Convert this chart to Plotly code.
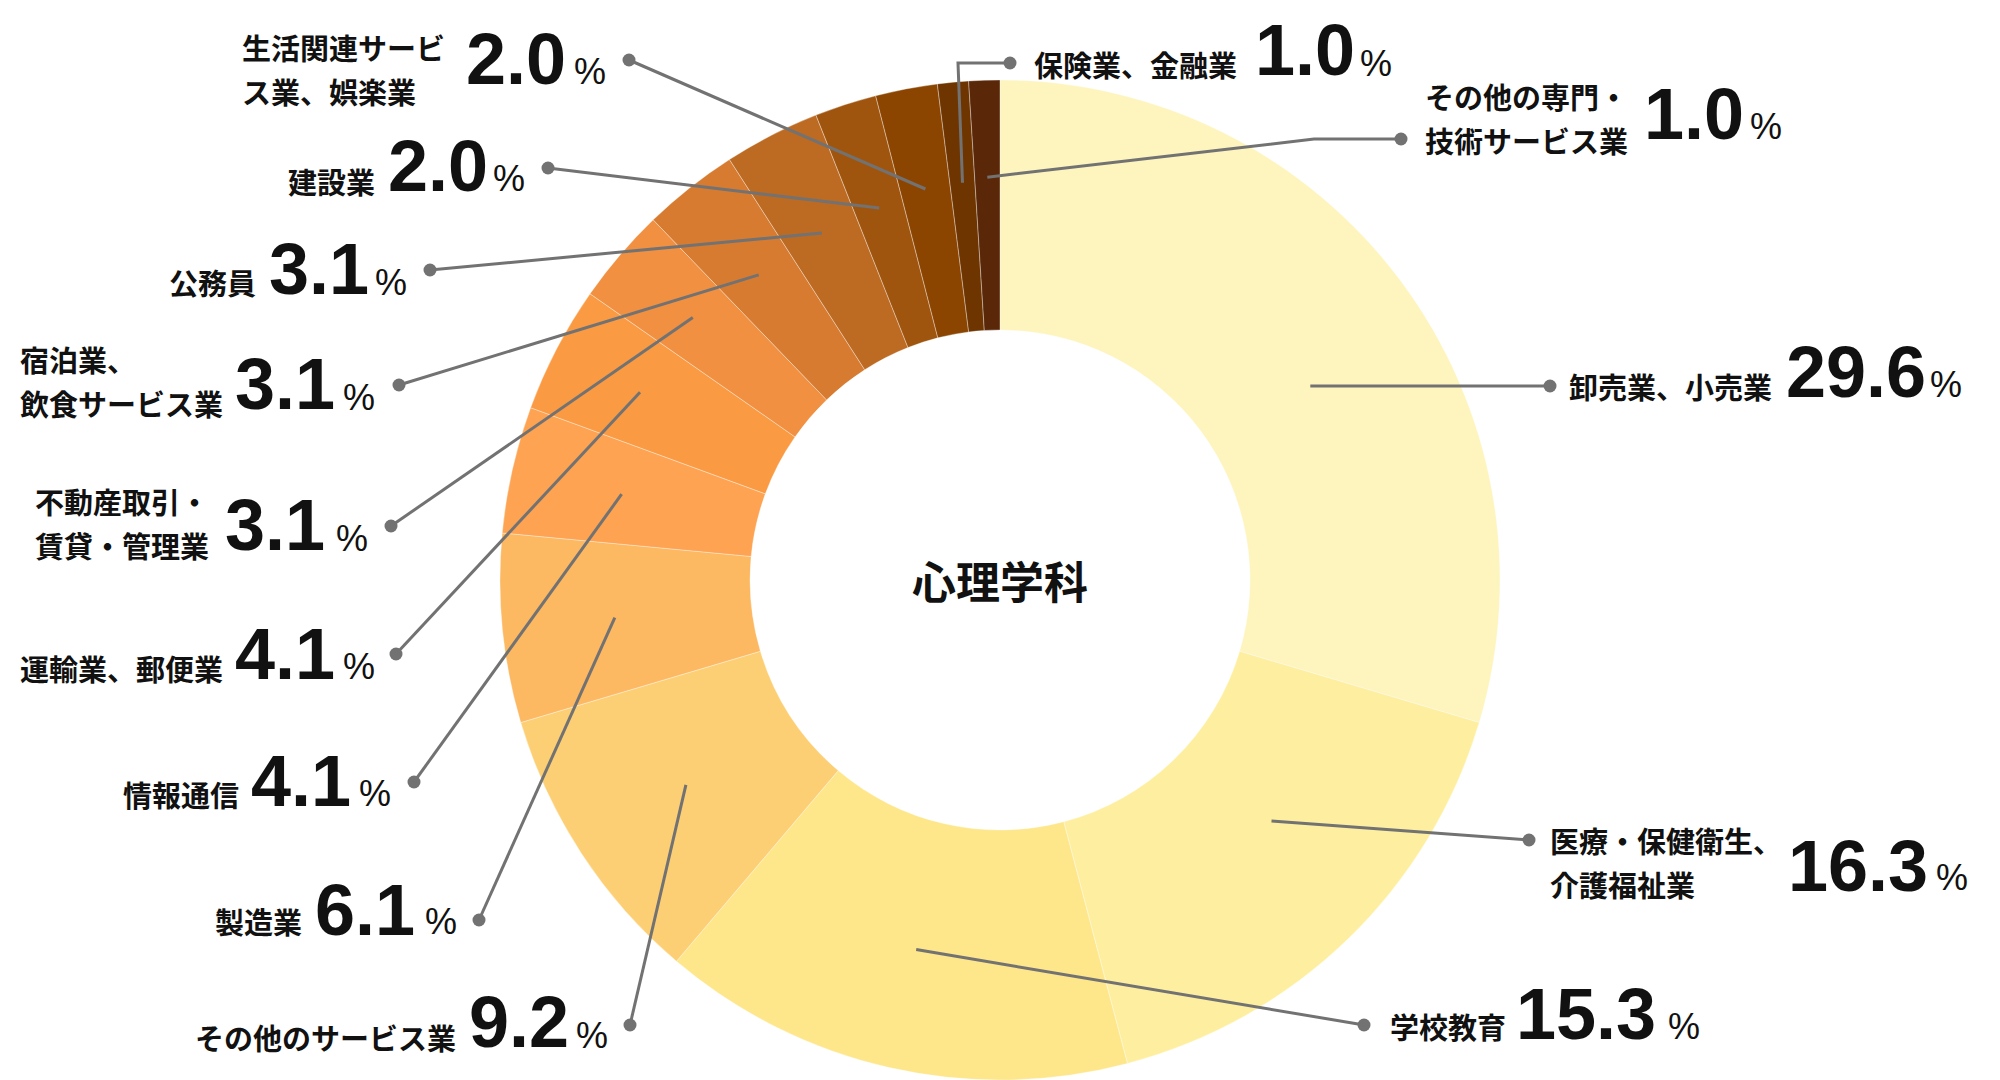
import math
import plotly.graph_objects as go

# ---------------- data ----------------
categories = ["卸売業、小売業", "医療・保健衛生、介護福祉業", "学校教育", "その他のサービス業",
              "製造業", "情報通信", "運輸業、郵便業", "不動産取引・賃貸・管理業",
              "宿泊業、飲食サービス業", "公務員", "建設業", "生活関連サービス業、娯楽業",
              "保険業、金融業", "その他の専門・技術サービス業"]
label_lines = [["卸売業、小売業"], ["医療・保健衛生、", "介護福祉業"], ["学校教育"],
               ["その他のサービス業"], ["製造業"], ["情報通信"], ["運輸業、郵便業"],
               ["不動産取引・", "賃貸・管理業"], ["宿泊業、", "飲食サービス業"], ["公務員"],
               ["建設業"], ["生活関連サービ", "ス業、娯楽業"], ["保険業、金融業"],
               ["その他の専門・", "技術サービス業"]]
values = [29.6, 16.3, 15.3, 9.2, 6.1, 4.1, 4.1, 3.1, 3.1, 3.1, 2.0, 2.0, 1.0, 1.0]
center_title = "心理学科"

# ---------------- styles / layout ----------------
colors = ["#FEF4BE", "#FEEFA0", "#FEE68A", "#FDCF74", "#FDB862", "#FDA352", "#FA9A42",
          "#F09040", "#D77B30", "#BD6A22", "#A0550F", "#8B4500", "#6E3500", "#5A2808"]

W, H = 2000, 1080
CX, CY, R = 1000, 580, 500
HOLE = 0.5
LINE_COLOR = "#727272"
TEXT_COLOR = "#111111"
JP_FONT = "Noto Sans CJK JP"
NUM_FONT = "Liberation Sans, Arial, sans-serif"

dot_xy = [(1550, 386), (1529, 840), (1364, 1025), (630, 1025), (479, 920), (414, 782),
          (396, 654), (391, 526), (399, 385), (430, 270), (548, 168), (629, 60),
          (1010, 63), (1401, 139)]
# (x, y of first line, xanchor)
cat_pos = [(1567, 386, "left"), (1548, 840, "left"), (1388, 1026, "left"),
           (458, 1037, "right"), (304, 921, "right"), (241, 794, "right"),
           (225, 668, "right"), (33, 501, "left"), (18, 359, "left"),
           (258, 282, "right"), (377, 181, "right"), (240, 47, "left"),
           (1032, 64, "left"), (1423, 96, "left")]
num_pos = [(1856, 372), (1858, 866), (1586, 1014), (519, 1022), (365, 910), (301, 781),
           (285, 654), (275, 525), (285, 384), (319, 269), (438, 166), (516, 59),
           (1305, 50), (1694, 114)]
pct_pos = [(1946, 384), (1952, 877), (1684, 1026), (592, 1035), (441, 921), (375, 793),
           (359, 666), (352, 538), (359, 397), (391, 282), (509, 178), (590, 71),
           (1376, 63), (1766, 126)]
start_r = [366, 363, 379, 375, 387, 388, 406, 404, 389, 390, 391, 398, 399, 403]
start_dtheta = [4.7, -4.3, 0, 0, 0, 0, 0, 0, 0, 0, 0, 0, 0, 0]
elbows = [None] * 12 + [(958, 63), (1314, 139)]
LINE_GAP = 44

fig = go.Figure()

fig.add_trace(go.Pie(
    labels=categories, values=values, sort=False, direction="clockwise", rotation=0,
    hole=HOLE, textinfo="none", hoverinfo="label+percent", showlegend=False,
    marker=dict(colors=colors, line=dict(color="rgba(255,255,255,0.35)", width=1)),
    domain=dict(x=[(CX - R) / W, (CX + R) / W], y=[(H - CY - R) / H, (H - CY + R) / H]),
))

# dots
fig.add_trace(go.Scatter(
    x=[p[0] for p in dot_xy], y=[p[1] for p in dot_xy], mode="markers",
    marker=dict(size=13, color=LINE_COLOR), hoverinfo="skip", showlegend=False,
))

total = sum(values)
cum = 0.0
shapes = []
annotations = []
for i, v in enumerate(values):
    frac = (cum + v / 2) / total
    cum += v
    th = math.radians(360 * frac + start_dtheta[i])
    sx = CX + start_r[i] * math.sin(th)
    sy = CY - start_r[i] * math.cos(th)
    dx, dy = dot_xy[i]
    path = f"M {sx:.1f},{sy:.1f}"
    if elbows[i] is not None:
        path += f" L {elbows[i][0]},{elbows[i][1]}"
    path += f" L {dx},{dy}"
    shapes.append(dict(type="path", path=path, xref="x", yref="y", layer="above",
                       line=dict(color=LINE_COLOR, width=3)))

    cx_, cy_, anc = cat_pos[i]
    for k, line in enumerate(label_lines[i]):
        annotations.append(dict(
            x=cx_, y=cy_ + k * LINE_GAP, xref="x", yref="y", text=line, showarrow=False,
            xanchor=anc, yanchor="middle",
            font=dict(family=JP_FONT, size=29, color=TEXT_COLOR, weight="bold")))
    annotations.append(dict(
        x=num_pos[i][0], y=num_pos[i][1], xref="x", yref="y", text=f"{v:.1f}",
        showarrow=False, xanchor="center", yanchor="middle",
        font=dict(family=NUM_FONT, size=72, color=TEXT_COLOR, weight="bold")))
    annotations.append(dict(
        x=pct_pos[i][0], y=pct_pos[i][1], xref="x", yref="y", text="%",
        showarrow=False, xanchor="center", yanchor="middle",
        font=dict(family=NUM_FONT, size=36, color=TEXT_COLOR, weight="normal")))

annotations.append(dict(
    x=CX, y=CY, xref="x", yref="y", text=center_title, showarrow=False,
    xanchor="center", yanchor="middle",
    font=dict(family=JP_FONT, size=44, color=TEXT_COLOR, weight="bold")))

fig.update_layout(
    width=W, height=H, autosize=False,
    margin=dict(l=0, r=0, t=0, b=0),
    paper_bgcolor="white", plot_bgcolor="white",
    xaxis=dict(range=[0, W], visible=False, fixedrange=True, domain=[0, 1]),
    yaxis=dict(range=[H, 0], visible=False, fixedrange=True, domain=[0, 1]),
    shapes=shapes, annotations=annotations,
)

fig.write_html(
    "out.html",
    config={"displayModeBar": False},
    post_script="document.body.style.margin='0';document.body.style.overflow='hidden';",
)
